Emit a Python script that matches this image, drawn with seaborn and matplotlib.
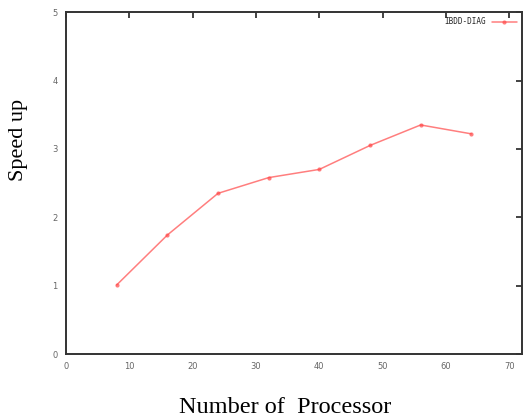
import pandas as pd
import seaborn as sns
import matplotlib.pyplot as plt
import matplotlib.ticker as plticker

# values
processors = [8, 16, 24, 32, 40, 48, 56, 64]
speedup = [1.01, 1.74, 2.35, 2.58, 2.70, 3.05, 3.35, 3.22]
series_name = "IBDD-DIAG"


def prepare_data():
    data = pd.DataFrame({"processors": processors, "speedup": speedup})
    data["series"] = series_name
    return data


def plot_data(data, filename):
    sns.set_theme(style="white")
    plt.rcParams["font.family"] = ["DejaVu Sans"]
    fig = plt.figure(figsize=(5.28, 4.18), dpi=100)
    ax = fig.add_axes([0.125, 0.153, 0.8636, 0.818])
    sns.lineplot(data=data, x="processors", y="speedup", hue="series",
                 palette=["#ff4848"], marker="o", markersize=3,
                 markeredgewidth=0, linewidth=1.1, alpha=0.7, ax=ax)
    ax.set_xlim(0, 72)
    ax.set_ylim(0, 5)
    ax.xaxis.set_major_locator(plticker.MultipleLocator(10))
    ax.yaxis.set_major_locator(plticker.MultipleLocator(1))
    ax.tick_params(direction="in", length=4, width=1.2, top=True, right=True,
                   labelsize=6, labelcolor="#666666", color="#222222")
    ax.tick_params(axis="x", pad=6)
    ax.tick_params(axis="y", pad=6)
    for sp in ax.spines.values():
        sp.set_visible(True)
        sp.set_color("#333333")
        sp.set_linewidth(1.4)
    ax.set_xlabel("Number of  Processor", family="Liberation Serif",
                  fontsize=17.5, color="black")
    ax.xaxis.set_label_coords(0.481, -0.125)
    ax.set_ylabel("Speed up", family="Liberation Serif",
                  fontsize=16, color="black")
    ax.yaxis.set_label_coords(-0.083, 0.625)
    ax.legend(loc="upper right", frameon=False, markerfirst=False,
              prop={"family": "DejaVu Sans Mono", "size": 5.5},
              handlelength=3.2, borderaxespad=0.3)
    plt.savefig(filename, dpi=100)
    print("Figure saved.")


def main():
    data = prepare_data()
    plot_data(data, "out.png")


main()
